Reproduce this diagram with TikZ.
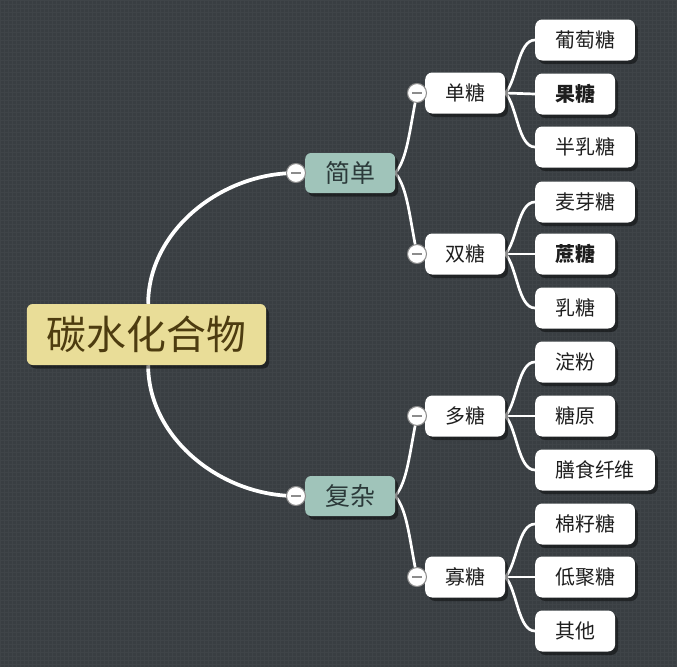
\documentclass[tikz,border=0pt]{standalone}
\usepackage{fontspec}
\setmainfont{Noto Sans CJK SC}
\usetikzlibrary{positioning,shadows}
\definecolor{bgcol}{RGB}{57,62,66}
\definecolor{gridcol}{RGB}{63,68,72}
\definecolor{rootfill}{RGB}{233,221,152}
\definecolor{roottext}{RGB}{77,60,16}
\definecolor{midfill}{RGB}{160,196,186}
\definecolor{midtext}{RGB}{44,58,58}
\definecolor{foldgray}{RGB}{140,140,140}
\definecolor{leaftext}{RGB}{30,30,30}
\pgfdeclarelayer{back}
\pgfdeclarelayer{links}
\pgfsetlayers{back,links,main}

\begin{document}
\begin{tikzpicture}[x=0.03cm,y=-0.03cm,
  every node/.style={inner sep=0pt},
  shade/.style={drop shadow={shadow xshift=2.5pt,shadow yshift=-3pt,opacity=0.45,fill=black}},
  root/.style={shade,fill=rootfill,text=roottext,rounded corners=5pt,minimum height=1.83cm,inner xsep=0.6cm,font=\fontsize{34}{36}\selectfont},
  mid/.style={shade,fill=midfill,text=midtext,rounded corners=5pt,minimum height=1.2cm,inner xsep=0.6cm,font=\fontsize{21.3}{24}\selectfont,anchor=west},
  sub/.style={shade,fill=white,text=leaftext,rounded corners=6pt,minimum height=1.23cm,inner xsep=0.6cm,font=\fontsize{17}{20}\selectfont,anchor=west},
  fold/.style={circle,fill=white,draw=foldgray,line width=0.9pt,minimum size=0.57cm,
    path picture={\draw[foldgray,line width=1pt] ([xshift=-0.15cm]path picture bounding box.center) -- ([xshift=0.15cm]path picture bounding box.center);}},
  trunk/.style={draw=white,line width=3.2pt},
  link/.style={draw=white,line width=2.3pt}]

  \useasboundingbox (0,0) rectangle (677,667);
  \begin{pgfonlayer}{back}
    \fill[bgcol] (0,0) rectangle (677,667);
    \draw[gridcol,line width=0.3pt,step=0.12cm] (0,0) grid (677,667);
  \end{pgfonlayer}

  \node[root] (carb) at (146.5,334.5) {碳水化合物};

  \node[mid] (simple)  at (305,173) {简单};
  \node[mid] (complex) at (305,496) {复杂};

  \node[sub] (mono)  at (425,93)  {单糖};
  \node[sub] (di)    at (425,254) {双糖};
  \node[sub] (poly)  at (425,416) {多糖};
  \node[sub] (oligo) at (425,577) {寡糖};

  \node[sub] (glucose)   at (535,40)  {葡萄糖};
  \node[sub] (fructose)  at (535,94)  {\bfseries 果糖};
  \node[sub] (galactose) at (535,147) {半乳糖};
  \node[sub] (maltose)   at (535,202) {麦芽糖};
  \node[sub] (sucrose)   at (535,254) {\bfseries 蔗糖};
  \node[sub] (lactose)   at (535,308) {乳糖};
  \node[sub] (starch)    at (535,362) {淀粉};
  \node[sub] (glycogen)  at (535,416) {糖原};
  \node[sub] (fiber)     at (535,470) {膳食纤维};
  \node[sub] (raffinose) at (535,524) {棉籽糖};
  \node[sub] (fos)       at (535,577) {低聚糖};
  \node[sub] (other)     at (535,631) {其他};

  \node[fold] (fsimple)  at ([xshift=-0.27cm]simple.west)  {};
  \node[fold] (fcomplex) at ([xshift=-0.27cm]complex.west) {};
  \foreach \n in {mono,di,poly,oligo}
    \node[fold] (f\n) at ([xshift=-0.24cm]\n.west) {};

  \begin{pgfonlayer}{links}
    \draw[trunk] ([xshift=0.05cm]carb.north) .. controls +(0,-72) and +(-76,0) .. (fsimple.center);
    \draw[trunk] ([xshift=0.05cm]carb.south) .. controls +(0,72) and +(-76,0) .. (fcomplex.center);
    \draw[link] (simple.east) .. controls +(12,-15) and +(-8,40) .. (fmono.center);
    \draw[link] (simple.east) .. controls +(12,15) and +(-8,-40) .. (fdi.center);
    \draw[link] (complex.east) .. controls +(12,-15) and +(-8,40) .. (fpoly.center);
    \draw[link] (complex.east) .. controls +(12,15) and +(-8,-40) .. (foligo.center);
    \foreach \p/\a/\b/\c in {mono/glucose/fructose/galactose,di/maltose/sucrose/lactose,
                             poly/starch/glycogen/fiber,oligo/raffinose/fos/other}{
      \draw[link] (\p.east) .. controls +(12,-13) and +(-17,0) .. (\a.west);
      \draw[link] (\p.east) -- (\b.west);
      \draw[link] (\p.east) .. controls +(12,13) and +(-17,0) .. (\c.west);
    }
  \end{pgfonlayer}
\end{tikzpicture}
\end{document}
